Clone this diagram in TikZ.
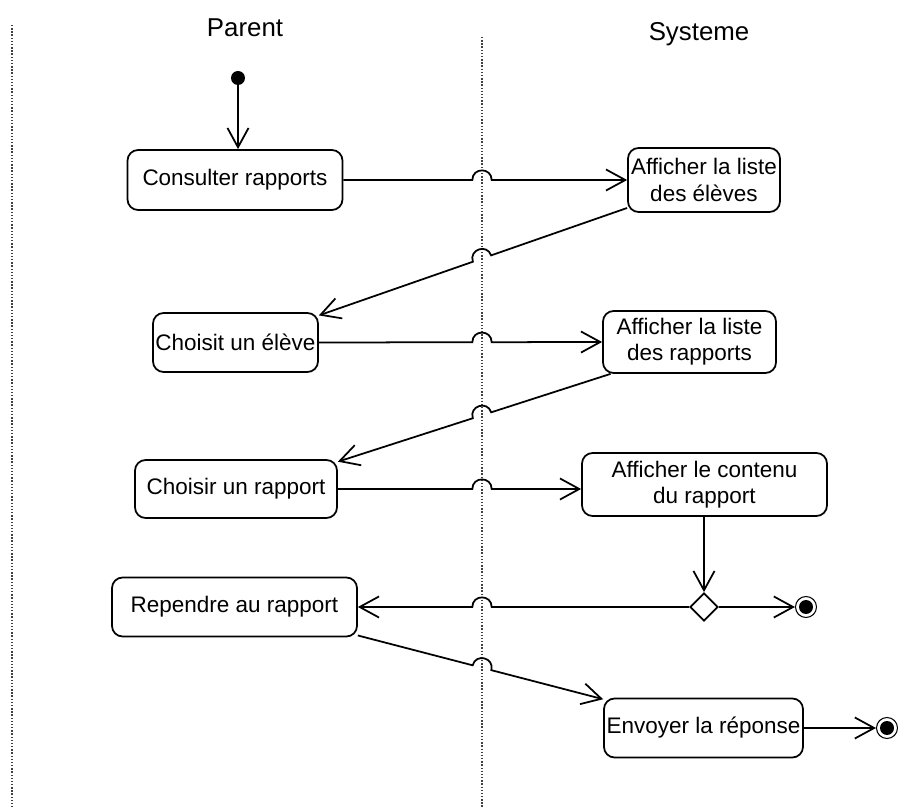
\documentclass[tikz,border=0pt]{standalone}
\usepackage{fontspec}
\setmainfont{Liberation Sans}
\usetikzlibrary{arrows.meta,calc,shapes.geometric}
% connector with a small hop over the middle lane
\newcommand{\hop}[3][bend left]{%
  \draw[flow] let \p1=(#2), \p2=(#3), \p3=(lane),
    \n1={veclen(\x2-\x1,\y2-\y1)*((\x3-\x1)/(\x2-\x1))} in
    (#2) -- ($(#2)!\n1-5.5pt!(#3)$) to[#1=90,looseness=1.7] ($(#2)!\n1+5.5pt!(#3)$) -- (#3);}
\begin{document}
\begin{tikzpicture}[x=0.02cm,y=-0.02cm,>={Straight Barb[length=11pt,width=12pt]},
    act/.style={draw,line width=1pt,rounded corners=6pt,align=center,inner sep=1pt,
        font=\fontsize{12.8}{15}\selectfont},
    flow/.style={->,line width=1pt},
    lanestyle/.style={line width=0.9pt,dash pattern=on 0.8pt off 1pt,black!75},
    title/.style={font=\fontsize{14.7}{17}\selectfont},
    endstate/.style={circle,draw,line width=0.6pt,minimum size=0.42cm,inner sep=0pt,
        path picture={\fill (path picture bounding box.center) circle (0.14cm);}}]
\useasboundingbox (0,0) rectangle (917,807);
\foreach \x/\y in {12/25,482/37}
{
    \draw[lanestyle] (\x,\y) -- (\x,807);
}
\coordinate (lane) at (482,0);
\node[title] (parent) at (245,28) {Parent};
\node[title] (systeme) at (699,34) {Systeme};
\node[circle,fill,inner sep=0pt,minimum size=0.28cm] (init) at (238,78) {};
\node[act,minimum width=4.3cm,minimum height=1.2cm] (consult) at (235,180) {Consulter rapports};
\node[act,minimum width=3.04cm,minimum height=1.28cm] (eleves) at (704,180) {Afficher la liste\\des élèves};
\node[act,minimum width=3.3cm,minimum height=1.18cm] (choisit) at (235.5,342.5) {Choisit un élève};
\node[act,minimum width=3.46cm,minimum height=1.24cm] (rapports) at (689.5,342) {Afficher la liste\\des rapports};
\node[act,minimum width=4.04cm,minimum height=1.16cm] (choixrap) at (236,489) {Choisir un rapport};
\node[act,minimum width=4.9cm,minimum height=1.26cm] (contenu) at (704.5,484.5) {Afficher le contenu\\du rapport};
\node[diamond,draw,line width=1pt,inner sep=0pt,minimum width=0.56cm,minimum height=0.56cm] (choix) at (704,607) {};
\node[endstate] (fin1) at (806,607) {};
\node[act,minimum width=4.9cm,minimum height=1.18cm] (rependre) at (234.5,607) {Rependre au rapport};
\node[act,minimum width=3.98cm,minimum height=1.18cm] (envoyer) at (703.5,728) {Envoyer la réponse};
\node[endstate] (fin2) at (887,728) {};
\draw[flow] (init) -- (init |- consult.north);
\hop{consult.east}{eleves.west}
\hop[bend right]{eleves.200}{choisit.18}
\hop{choisit.east}{rapports.west}
\hop[bend right]{rapports.202}{choixrap.15}
\hop{choixrap.east}{contenu.west |- choixrap.east}
\draw[flow] (contenu.south -| choix) -- (choix.north);
\hop[bend right]{choix.west}{rependre.east}
\draw[flow] (choix.east) -- (fin1);
\hop{rependre.-13}{envoyer.164}
\draw[flow] (envoyer.east) -- (fin2);
\end{tikzpicture}
\end{document}
